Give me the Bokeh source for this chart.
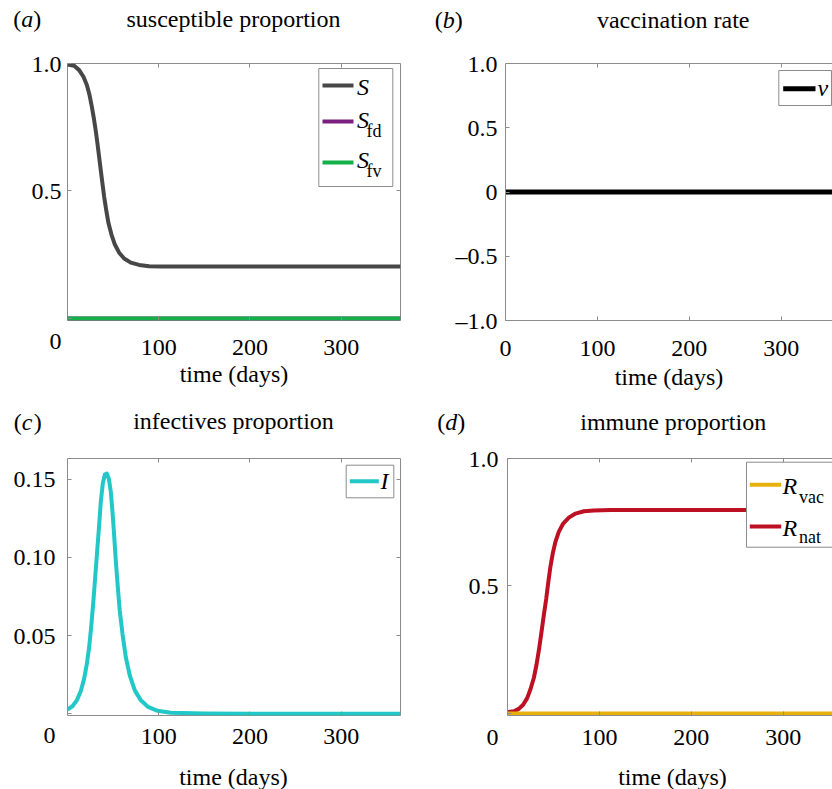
from bokeh.plotting import figure
from bokeh.models import Label, BoxAnnotation, LinearAxis, FixedTicker, Range1d
from bokeh.layouts import column, row
from bokeh.embed import file_html
from bokeh.resources import INLINE

# ---------------- data ----------------
time_ticks = [100, 200, 300]

S_days = [0, 7.3, 12.8, 17.5, 21.2, 24.1, 26.6, 28.8, 31.0, 32.9, 34.7, 36.5, 38.3, 40.2, 42.4, 44.9,
          48.2, 51.9, 56.6, 62.1, 69.4, 78.5, 89.5, 102.3, 150, 250, 365]
S_vals = [0.996, 0.991, 0.974, 0.948, 0.916, 0.877, 0.832, 0.787, 0.735, 0.684, 0.632, 0.580, 0.529,
          0.477, 0.426, 0.374, 0.329, 0.290, 0.258, 0.235, 0.219, 0.210, 0.205, 0.204, 0.204, 0.204, 0.204]
Sfd_days = [0, 365]
Sfd_vals = [0.0, 0.0]
Sfv_days = [0, 365]
Sfv_vals = [0.0, 0.0]

v_days = [0, 365]
v_vals = [0.0, 0.0]

I_days = [0, 5.4, 10.2, 14.6, 18.2, 21.2, 23.7, 25.9, 28.1, 30.3, 32.5, 34.7, 36.5, 38.7, 40.9, 43.1,
          45.3, 47.5, 49.3, 51.1, 53.0, 55.2, 57.3, 60.3, 63.9, 68.3, 73.8, 80.4, 88.4, 98.6, 113.3,
          150, 200, 365]
I_vals = [0.0026, 0.0047, 0.0085, 0.0145, 0.0223, 0.0318, 0.0424, 0.0551, 0.0699, 0.0869, 0.1038,
          0.1208, 0.1356, 0.1473, 0.1530, 0.1536, 0.1504, 0.1419, 0.1292, 0.1144, 0.0975, 0.0806,
          0.0657, 0.0509, 0.0361, 0.0244, 0.0149, 0.0085, 0.0043, 0.0018, 0.0005, 0.0001, 0.0, 0.0]

Rnat_days = [0, 6.9, 12.3, 17.0, 21.4, 25.0, 28.7, 31.6, 34.5, 37.0, 39.5, 42.1, 44.3, 46.8, 49.3, 52.2,
             55.9, 60.6, 66.7, 74.0, 83.1, 93.9, 112.1, 200, 365]
Rnat_vals = [0.005, 0.0085, 0.018, 0.034, 0.060, 0.095, 0.140, 0.192, 0.256, 0.320, 0.385, 0.449, 0.513,
             0.578, 0.629, 0.674, 0.713, 0.745, 0.768, 0.784, 0.793, 0.796, 0.798, 0.798, 0.798]
Rvac_days = [0, 365]
Rvac_vals = [0.0, 0.0]

# ---------------- styling ----------------
FONT = "Liberation Serif"
FS = "24px"
SUB = "18px"
GRAY = "#8c8c8c"
C_S, C_FD, C_FV = "#474747", "#7b1f7e", "#13b04a"
C_I, C_VAC, C_NAT, C_V = "#22c7c7", "#e8b00c", "#be1023", "#000000"
XLABEL = "time (days)"


def make_fig(w, h, bl, br, bt, bb, xr, yr, outline):
    p = figure(width=w, height=h, min_border_left=bl, min_border_right=br,
               min_border_top=bt, min_border_bottom=bb,
               x_range=Range1d(*xr), y_range=Range1d(*yr),
               output_backend="svg", toolbar_location=None, tools="")
    p.xgrid.visible = False
    p.ygrid.visible = False
    p.outline_line_color = GRAY if outline else None
    p.background_fill_color = "white"
    p.border_fill_color = "white"
    return p


def strip(w, h):
    s = figure(width=w, height=h, min_border=0, x_range=Range1d(0, 1), y_range=Range1d(0, 1),
               x_axis_location=None, y_axis_location=None,
               output_backend="svg", toolbar_location=None, tools="")
    s.grid.grid_line_color = None
    s.outline_line_color = None
    s.background_fill_color = "white"
    s.border_fill_color = "white"
    return s


def style_axis(ax, ticks, overrides, standoff, line_color, label=None, label_standoff=0,
               line_height=1.2):
    ax.ticker = FixedTicker(ticks=ticks)
    ax.major_label_overrides = overrides
    ax.major_label_text_font = FONT
    ax.major_label_text_font_size = FS
    ax.major_label_text_color = "black"
    ax.major_label_text_line_height = line_height
    ax.major_tick_in = 4
    ax.major_tick_out = 0
    ax.major_tick_line_color = GRAY
    ax.minor_tick_line_color = None
    ax.axis_line_color = line_color
    ax.major_label_standoff = standoff
    if label:
        ax.axis_label = label
        ax.axis_label_text_font = FONT
        ax.axis_label_text_font_size = FS
        ax.axis_label_text_font_style = "normal"
        ax.axis_label_text_color = "black"
        ax.axis_label_standoff = label_standoff


def blank_axis(p, ticks, side, line_color):
    ax = LinearAxis(ticker=FixedTicker(ticks=ticks),
                    major_label_overrides={t: "" for t in ticks},
                    major_label_text_font_size="0px", major_label_standoff=0,
                    major_tick_in=4, major_tick_out=0, major_tick_line_color=GRAY,
                    minor_tick_line_color=None, axis_line_color=line_color)
    p.add_layout(ax, side)


class Page:
    """Place annotations in page pixel coordinates relative to a figure's frame."""
    def __init__(self, p, frame_left, frame_bottom):
        self.p, self.fl, self.fb = p, frame_left, frame_bottom

    def text(self, X, Y, s, size=FS, align="center", style="normal"):
        self.p.add_layout(Label(x=X - self.fl, y=self.fb - Y, x_units="screen", y_units="screen",
                                text=s, text_font=FONT, text_font_size=size, text_align=align,
                                text_baseline="middle", text_font_style=style, text_color="black"))

    def box(self, left, right, top, bottom, fill, line):
        self.p.add_layout(BoxAnnotation(left=left - self.fl, right=right - self.fl,
                                        top=self.fb - top, bottom=self.fb - bottom,
                                        left_units="screen", right_units="screen",
                                        top_units="screen", bottom_units="screen",
                                        fill_color=fill, fill_alpha=1.0,
                                        line_color=line, line_width=1, line_alpha=1.0 if line else 0,
                                        level="annotation"))

    def sample(self, x0, x1, y, color, lw=4):
        self.box(x0, x1, y - lw / 2, y + lw / 2, color, None)

    def panel_tag(self, X, Y, letter):
        self.text(X, Y, "(", align="left")
        self.text(X + 8, Y, letter, align="left", style="italic")
        self.text(X + 20, Y, ")", align="left")


# ---------------- header strips (panel letters and titles) ----------------
hdr1 = strip(832, 40)
H1 = Page(hdr1, 0, 40)
H1.panel_tag(12.7, 18, "a")
H1.text(233, 18.5, "susceptible proportion")
H1.panel_tag(434.3, 19.5, "b")
H1.text(672.7, 19.5, "vaccination rate")

hdr2 = strip(832, 42)
H2 = Page(hdr2, 0, 436)
H2.panel_tag(13.3, 421, "c")
H2.text(233, 420.7, "infectives proportion")
H2.panel_tag(436.7, 421.7, "d")
H2.text(672.7, 421.5, "immune proportion")

ftr2 = strip(832, 34)
F2 = Page(ftr2, 0, 789)
F2.text(233, 776, XLABEL)
F2.text(672, 776, XLABEL)

# ---------------- (a) susceptible proportion ----------------
pa = make_fig(416, 354, 67, 16, 23, 70, (0, 365), (-0.008, 1.0), True)
style_axis(pa.below[0], time_ticks, {100: "100", 200: "200", 300: "300"}, 19, None,
           label=XLABEL, label_standoff=3)
style_axis(pa.left[0], [0.0, 0.5, 1.0], {0.0: "\n0", 0.5: "0.5", 1.0: "1.0"}, 6, None,
           line_height=1.77)
blank_axis(pa, time_ticks, "above", None)
blank_axis(pa, [0.5], "right", None)
pa.line(Sfd_days, Sfd_vals, color=C_FD, line_width=4)
pa.line(Sfv_days, Sfv_vals, color=C_FV, line_width=4)
pa.line(S_days, S_vals, color=C_S, line_width=4, line_join="round")
A = Page(pa, 67, 324)
A.box(318.3, 392.3, 72, 190, "white", GRAY)
A.sample(322, 353, 89, C_S)
A.sample(322, 353, 125, C_FD)
A.sample(322, 353, 166, C_FV)
A.text(356.5, 90.5, "S", align="left", style="italic")
A.text(356.5, 123, "S", align="left", style="italic")
A.text(366, 134, "fd", size=SUB, align="left")
A.text(356.5, 163.5, "S", align="left", style="italic")
A.text(366, 174, "fv", size=SUB, align="left")

# ---------------- (b) vaccination rate ----------------
pb = make_fig(416, 354, 89, 0, 23, 74, (0, 355.8), (-1.0, 1.0), False)
style_axis(pb.below[0], [0] + time_ticks, {0: "0", 100: "100", 200: "200", 300: "300"}, 20, GRAY,
           label=XLABEL, label_standoff=5)
style_axis(pb.left[0], [-1.0, -0.5, 0.0, 0.5, 1.0],
           {-1.0: "\u20131.0", -0.5: "\u20130.5", 0.0: "0", 0.5: "0.5", 1.0: "1.0"}, 8, GRAY)
blank_axis(pb, time_ticks, "above", GRAY)
pb.line(v_days, v_vals, color=C_V, line_width=5)
B = Page(pb, 505, 320)
B.box(778.3, 831, 70, 105, "white", GRAY)
B.sample(782.7, 815, 88.3, C_V, lw=5)
B.text(817, 87, "v", align="left", style="italic")

# ---------------- (c) infectives proportion ----------------
pc = make_fig(416, 319, 67, 16, 22, 38, (0, 365), (-0.0012, 0.1633), True)
style_axis(pc.below[0], time_ticks, {100: "100", 200: "200", 300: "300"}, 13, None)
style_axis(pc.left[0], [0.0, 0.05, 0.10, 0.15], {0.0: "\n0", 0.05: "0.05", 0.1: "0.10", 0.15: "0.15"},
           12, None, line_height=1.62)
blank_axis(pc, time_ticks, "above", None)
blank_axis(pc, [0.05, 0.10, 0.15], "right", None)
pc.line(I_days, I_vals, color=C_I, line_width=4, line_join="round")
C = Page(pc, 67, 717)
C.box(345.7, 393.3, 466.7, 499.3, "white", GRAY)
C.sample(349.3, 378.3, 482.7, C_I)
C.text(380, 482.5, "I", align="left", style="italic")

# ---------------- (d) immune proportion ----------------
pd_ = make_fig(416, 319, 91, 0, 18, 40, (0, 353.6), (-0.008, 1.0), False)
style_axis(pd_.below[0], time_ticks, {100: "100", 200: "200", 300: "300"}, 14, GRAY)
style_axis(pd_.left[0], [0.0, 0.5, 1.0], {0.0: "\n0", 0.5: "0.5", 1.0: "1.0"}, 9, GRAY,
           line_height=1.81)
blank_axis(pd_, time_ticks, "above", GRAY)
pd_.line(Rnat_days, Rnat_vals, color=C_NAT, line_width=4, line_join="round")
pd_.line(Rvac_days, Rvac_vals, color=C_VAC, line_width=4)
D = Page(pd_, 507, 715)
D.box(746, 845, 461.7, 546.7, "white", GRAY)
D.sample(749.3, 780.7, 484.3, C_VAC)
D.sample(749.3, 780.7, 526, C_NAT)
D.text(782, 485.5, "R", align="left", style="italic")
D.text(798.5, 496, "vac", size=SUB, align="left")
D.text(782, 527, "R", align="left", style="italic")
D.text(798.5, 536.5, "nat", size=SUB, align="left")

layout = column(hdr1, row(pa, pb), hdr2, row(pc, pd_), ftr2)
open("out.html", "w").write(file_html(layout, INLINE))
